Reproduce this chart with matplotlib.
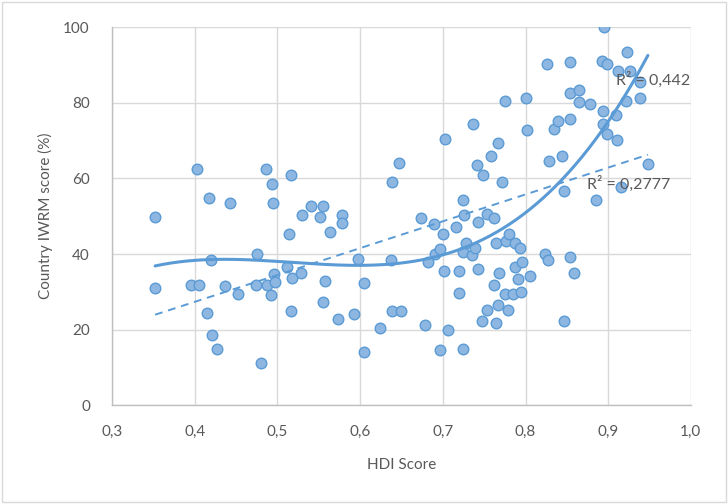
import numpy as np
import matplotlib
matplotlib.use("Agg")
import matplotlib.pyplot as plt
from matplotlib.patches import Rectangle

# HDI score and country IWRM score (%) for each country
hdi = [
    0.352, 0.352, 0.396, 0.405, 0.403, 0.417, 0.419, 0.415, 0.421, 0.427,
    0.436, 0.442, 0.452, 0.474, 0.475, 0.480, 0.486, 0.487, 0.492, 0.493,
    0.495, 0.496, 0.497, 0.511, 0.514, 0.516, 0.516, 0.518, 0.528, 0.530,
    0.541, 0.551, 0.555, 0.555, 0.557, 0.564, 0.573, 0.578, 0.578, 0.593,
    0.597, 0.605, 0.605, 0.624, 0.637, 0.639, 0.639, 0.647, 0.650, 0.674,
    0.678, 0.682, 0.689, 0.690, 0.697, 0.697, 0.700, 0.701, 0.703, 0.706,
    0.716, 0.720, 0.720, 0.724, 0.724, 0.726, 0.724, 0.728, 0.735, 0.737,
    0.739, 0.741, 0.743, 0.743, 0.747, 0.749, 0.753, 0.753, 0.758, 0.762,
    0.762, 0.764, 0.764, 0.767, 0.767, 0.768, 0.772, 0.775, 0.775, 0.777,
    0.779, 0.780, 0.785, 0.787, 0.787, 0.791, 0.793, 0.794, 0.796, 0.800,
    0.802, 0.806, 0.823, 0.826, 0.827, 0.829, 0.835, 0.839, 0.844, 0.846,
    0.846, 0.854, 0.854, 0.854, 0.854, 0.859, 0.865, 0.865, 0.878, 0.885,
    0.892, 0.894, 0.894, 0.895, 0.898, 0.898, 0.909, 0.911, 0.912, 0.915,
    0.922, 0.923, 0.926, 0.938, 0.938, 0.948,
]
iwrm = [
    49.8, 31.0, 31.9, 31.9, 62.6, 54.7, 38.3, 24.3, 18.5, 14.8,
    31.5, 53.5, 29.5, 31.9, 40.1, 11.3, 62.6, 31.9, 29.1, 58.5,
    53.5, 34.7, 32.7, 36.6, 45.2, 60.8, 24.9, 33.7, 35.1, 50.3,
    52.6, 49.7, 52.6, 27.2, 32.8, 45.7, 22.7, 50.3, 48.2, 24.2,
    38.8, 32.4, 14.0, 20.3, 38.4, 59.0, 25.0, 64.0, 25.0, 49.4,
    21.3, 37.8, 48.0, 40.1, 41.2, 14.6, 45.2, 35.5, 70.4, 20.0,
    47.1, 35.5, 29.6, 54.4, 15.0, 50.3, 40.6, 42.9, 39.7, 74.5,
    41.5, 63.6, 48.5, 36.0, 22.3, 60.8, 50.7, 25.1, 65.9, 49.4,
    31.9, 43.0, 21.8, 69.5, 26.5, 35.1, 59.0, 80.4, 29.5, 43.4,
    25.1, 45.3, 29.5, 43.0, 36.5, 33.3, 41.5, 30.0, 37.8, 81.2,
    72.8, 34.2, 39.9, 90.2, 38.4, 64.6, 73.2, 75.1, 65.9, 56.8,
    22.3, 90.7, 82.5, 75.7, 39.2, 35.1, 83.3, 80.1, 79.6, 54.3,
    91.1, 77.9, 74.5, 100.0, 90.2, 71.7, 76.7, 70.1, 88.4, 57.7,
    80.5, 93.4, 88.4, 85.4, 81.4, 63.7,
]

x_ticks = [0.3, 0.4, 0.5, 0.6, 0.7, 0.8, 0.9, 1.0]
x_tick_labels = ["0,3", "0,4", "0,5", "0,6", "0,7", "0,8", "0,9", "1,0"]
y_ticks = [0, 20, 40, 60, 80, 100]
r2_poly_label = "R² = 0,442"
r2_linear_label = "R² = 0,2777"

plt.rcParams["font.family"] = ["Lato", "DejaVu Sans"]

BLUE = "#5B9BD5"
TEXT = "#595959"
GRID = "#D9D9D9"

fig = plt.figure(figsize=(7.28, 5.04), dpi=100)
ax = fig.add_axes([0.154, 0.196, 0.795, 0.750])

x = np.asarray(hdi)
y = np.asarray(iwrm)

ax.scatter(x, y, s=58, facecolor="#8DB6E1", edgecolor=BLUE,
           linewidth=1.0, zorder=3)

# Trend lines: third-order polynomial and linear least-squares fits
xs = np.linspace(x.min(), x.max(), 300)
poly3 = np.polyfit(x, y, 3)
ax.plot(xs, np.polyval(poly3, xs), color=BLUE, lw=2.2, zorder=4,
        solid_capstyle="round")
lin = np.polyfit(x, y, 1)
ax.plot(xs, np.polyval(lin, xs), color=BLUE, lw=1.4, ls=(0, (4, 3)),
        zorder=4)

ax.text(0.910, 86.0, r2_poly_label, fontsize=11.5, color=TEXT,
        va="center", ha="left", zorder=5, clip_on=False)
ax.text(0.874, 58.6, r2_linear_label, fontsize=11.5, color=TEXT,
        va="center", ha="left", zorder=5, clip_on=False)

ax.set_xlim(0.3, 1.0)
ax.set_ylim(0, 100)
ax.set_xticks(x_ticks)
ax.set_xticklabels(x_tick_labels)
ax.set_yticks(y_ticks)

ax.grid(True, color=GRID, lw=1.0, zorder=0)
ax.set_axisbelow(True)
for side in ("top", "right"):
    ax.spines[side].set_visible(False)
for side in ("left", "bottom"):
    ax.spines[side].set_color("#BFBFBF")
    ax.spines[side].set_linewidth(1.0)

ax.tick_params(axis="both", length=0, labelsize=11, colors=TEXT)
ax.tick_params(axis="x", pad=14)
ax.tick_params(axis="y", pad=16)

ax.set_xlabel("HDI Score", fontsize=11, color=TEXT)
ax.set_ylabel("Country IWRM score (%)", fontsize=11, color=TEXT)
ax.xaxis.set_label_coords(0.5, -0.159)
ax.yaxis.set_label_coords(-0.116, 0.5)
ax.xaxis.label.set_va("center")
ax.yaxis.label.set_va("center")

# Chart-area border
fig.patches.append(Rectangle((0.003, 0.003), 0.994, 0.994,
                             transform=fig.transFigure, fill=False,
                             edgecolor="#D9D9D9", lw=1.0))

fig.savefig("out.png", dpi=100)
